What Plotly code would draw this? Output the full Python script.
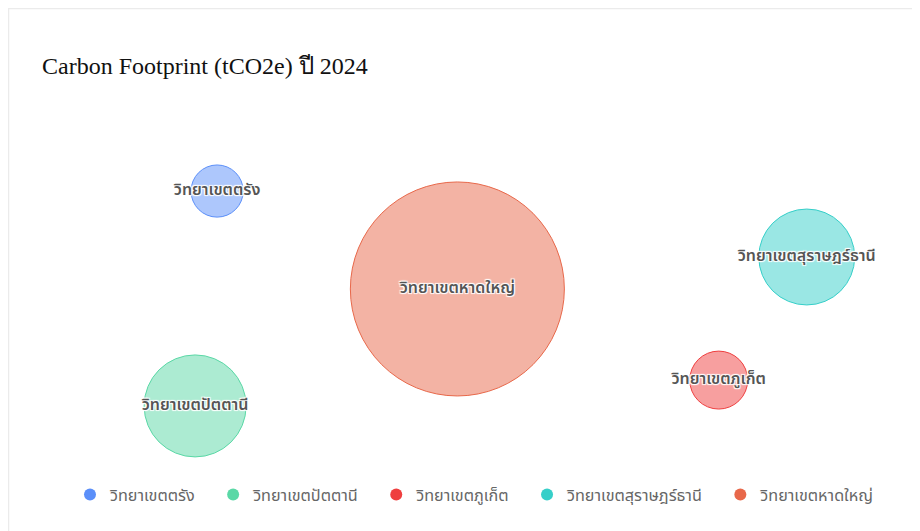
"""Carbon footprint bubble chart by campus."""
import plotly.graph_objects as go

CAMPUSES = ["วิทยาเขตตรัง", "วิทยาเขตปัตตานี", "วิทยาเขตภูเก็ต",
            "วิทยาเขตสุราษฎร์ธานี", "วิทยาเขตหาดใหญ่"]
POS_X = [22.4, 19.9, 79.4, 89.4, 49.7]
POS_Y = [79.4, 16.2, 23.8, 60.0, 50.6]
TCO2E = [680, 2600, 840, 2300, 11450]

COLORS = ["#5B8FF9", "#5AD8A6", "#EF3F3F", "#36CFC9", "#E8684A"]
FILLS = ["rgba(91,143,249,0.5)", "rgba(90,216,166,0.5)", "rgba(239,63,63,0.5)",
         "rgba(54,207,201,0.5)", "rgba(232,104,74,0.5)"]

THAI_SANS = "Noto Sans Thai, Noto Sans, Tahoma, sans-serif"
HALO = "1px 1px 1px #fff, -1px -1px 1px #fff, 1px -1px 1px #fff, -1px 1px 1px #fff"

fig = go.Figure()

for i, name in enumerate(CAMPUSES):
    fig.add_trace(go.Scatter(
        x=[POS_X[i]], y=[POS_Y[i]], mode="markers+text",
        text=[name], textposition="middle center",
        textfont=dict(family=THAI_SANS, size=16, color="#555555", weight=600,
                      shadow=HALO),
        marker=dict(size=[TCO2E[i]], sizemode="area", sizeref=0.5, opacity=1,
                    color=FILLS[i], line=dict(color=COLORS[i], width=1)),
        name=name, legendgroup=name, showlegend=False,
        hovertemplate=name + "<br>%{marker.size} tCO2e<extra></extra>",
    ))

# legend entries drawn with solid colours (nbsp padding widens item gaps)
for i, name in enumerate(CAMPUSES):
    fig.add_trace(go.Scatter(
        x=[None], y=[None], mode="markers", name=name + "\u00a0\u00a0\u00a0",
        legendgroup=name, marker=dict(size=13, color=COLORS[i]),
    ))

fig.update_layout(
    width=920, height=531,
    paper_bgcolor="white", plot_bgcolor="white",
    margin=dict(l=12, r=28, t=113, b=78),
    title=dict(text="Carbon Footprint (tCO2e) ปี 2024",
               font=dict(family="Liberation Serif, Times New Roman, serif",
                         size=24, color="#111"),
               x=34 / 920, xanchor="left", xref="container",
               y=1 - 58 / 531, yanchor="middle", yref="container"),
    xaxis=dict(range=[0, 100], visible=False, fixedrange=True),
    yaxis=dict(range=[0, 100], visible=False, fixedrange=True),
    legend=dict(orientation="h", x=50 / 880, xanchor="left", y=-0.1, yanchor="middle",
                font=dict(family=THAI_SANS, size=16.2, color="#666666"),
                itemsizing="constant", bgcolor="rgba(0,0,0,0)"),
    shapes=[dict(type="rect", xref="paper", yref="paper",
                 x0=-11.5 / 880, x1=1.1, y0=-0.4, y1=452.5 / 340,
                 line=dict(color="#ebebeb", width=1.5), layer="below")],
    showlegend=True,
)

fig.write_html("out.html")
